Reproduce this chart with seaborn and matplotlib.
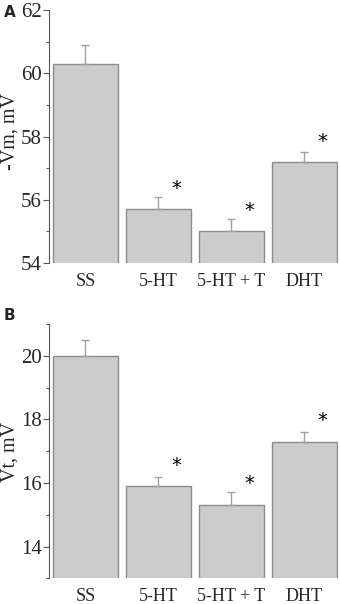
import numpy as np
import seaborn as sns
import matplotlib.pyplot as plt
from matplotlib.ticker import MultipleLocator

groups = ["SS", "5-HT", "5-HT + T", "DHT"]
vm_mean = [60.3, 55.7, 55.0, 57.2]
vm_err = [0.6, 0.4, 0.4, 0.3]
vm_star = [None, 56.37, 55.65, 57.83]
vt_mean = [20.0, 15.9, 15.3, 17.3]
vt_err = [0.5, 0.3, 0.4, 0.3]
vt_star = [None, 16.55, 15.97, 17.97]

sns.set_style("ticks")
plt.rcParams['font.family'] = ['Liberation Serif', 'DejaVu Serif']

fig = plt.figure(figsize=(3.4, 6.04), dpi=100)
axA = fig.add_axes([0.144, 0.5646, 0.85, 0.4188])
axB = fig.add_axes([0.144, 0.0425, 0.85, 0.4211])

def panel(ax, means, errs, stars, ylim):
    sns.barplot(x=groups, y=means, ax=ax, color="#cccccc", saturation=1,
                width=0.89, edgecolor="#8c8c8c", linewidth=1.0, errorbar=None)
    ax.errorbar(np.arange(len(groups)), means, yerr=[[0] * len(errs), errs],
                fmt="none", ecolor="#a0a0a0", elinewidth=1.0, capsize=3, capthick=1.0)
    for i, s in enumerate(stars):
        if s is not None:
            ax.text(i + 0.24, s, "*", ha="center", va="center", fontsize=14,
                    family="DejaVu Sans", color="black")
    ax.set_ylim(*ylim)
    ax.set_xlim(-0.5, 3.46)
    ax.yaxis.set_major_locator(MultipleLocator(2))
    ax.yaxis.set_minor_locator(MultipleLocator(1))
    ax.tick_params(axis="y", which="major", length=4, width=0.8, labelsize=15,
                   color="#555555", pad=1)
    ax.tick_params(axis="y", which="minor", length=2.5, width=0.8, color="#555555")
    ax.tick_params(axis="x", length=0, labelsize=13, pad=7)
    for side in ["top", "right", "bottom"]:
        ax.spines[side].set_visible(False)
    ax.spines["left"].set_color("#555555")
    ax.spines["left"].set_linewidth(0.8)
    ax.set_ylabel("")
    ax.set_xlabel("")
    return ax

panel(axA, vm_mean, vm_err, vm_star, (54, 62))
panel(axB, vt_mean, vt_err, vt_star, (13, 21))

fig.text(10 / 340, 0.783, "-Vm, mV", rotation=90, ha="center", va="center", fontsize=14.5)
fig.text(10 / 340, 0.252, "Vt, mV", rotation=90, ha="center", va="center", fontsize=14.5)

fig.text(0.012, 0.98, "A", fontsize=11, fontweight="bold", family="DejaVu Sans", va="center")
fig.text(0.012, 0.477, "B", fontsize=11, fontweight="bold", family="DejaVu Sans", va="center")

fig.savefig("out.png", dpi=100)
